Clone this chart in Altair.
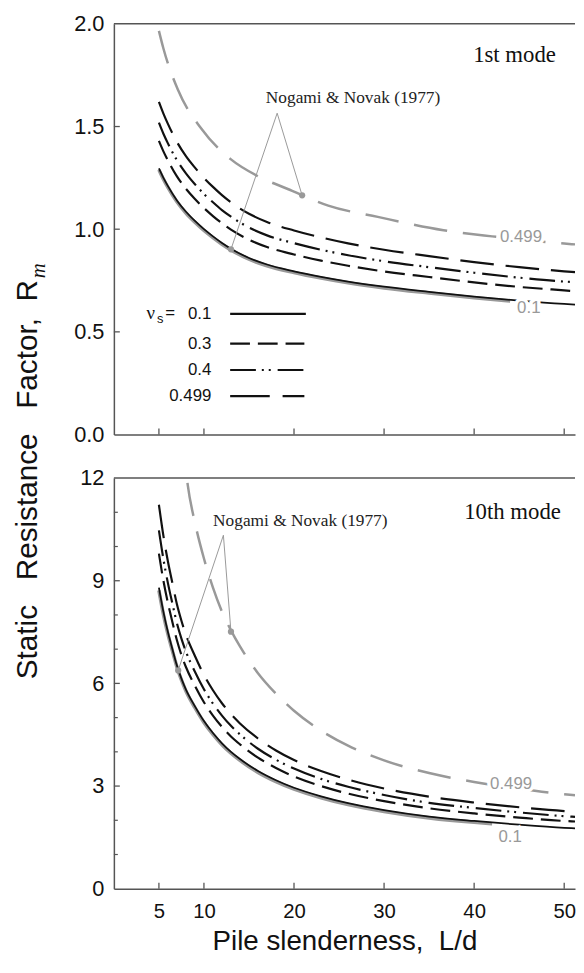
import altair as alt
import pandas as pd

# ---------------- values ----------------
X_TICKS = [5, 10, 20, 30, 40, 50]

# 1st mode
LD1 = [5, 5.5, 6, 7, 8, 9, 10, 11, 12, 13, 15, 17, 20, 23, 26, 30, 35, 40, 45, 50, 51.2]
M1_NU01 = [1.296, 1.25, 1.21, 1.14, 1.085, 1.04, 1.0, 0.965, 0.933, 0.905, 0.86, 0.828, 0.795, 0.768, 0.745, 0.72, 0.695, 0.672, 0.652, 0.636, 0.633]
M1_NU03 = [1.43, 1.379, 1.335, 1.257, 1.197, 1.147, 1.103, 1.064, 1.029, 0.998, 0.949, 0.913, 0.877, 0.847, 0.822, 0.794, 0.767, 0.741, 0.719, 0.702, 0.698]
M1_NU04 = [1.519, 1.465, 1.418, 1.336, 1.272, 1.219, 1.172, 1.131, 1.093, 1.061, 1.008, 0.970, 0.932, 0.900, 0.873, 0.844, 0.815, 0.788, 0.764, 0.745, 0.742]
M1_NU0499 = [1.62, 1.563, 1.513, 1.425, 1.356, 1.30, 1.25, 1.206, 1.166, 1.131, 1.075, 1.035, 0.994, 0.96, 0.931, 0.90, 0.869, 0.84, 0.815, 0.795, 0.791]
NN1_LD01 = [5, 5.5, 6, 7, 8, 9, 10, 11, 12, 13, 15, 17, 20, 23, 26, 30, 35, 40, 44]
NN1_NU01 = [1.29, 1.244, 1.204, 1.134, 1.079, 1.034, 0.994, 0.959, 0.927, 0.899, 0.854, 0.822, 0.789, 0.762, 0.739, 0.714, 0.689, 0.666, 0.65]
NN1_LD0499 = [5, 5.5, 7.1, 9.7, 13, 15.9, 19.8, 20.9, 23.8, 29.3, 36.6, 42, 50, 51.2]
NN1_NU0499 = [1.966, 1.88, 1.68, 1.49, 1.34, 1.26, 1.187, 1.165, 1.115, 1.06, 0.995, 0.965, 0.93, 0.926]
NN1_POINTS_LD = [13.0, 20.9]
NN1_POINTS_R = [0.902, 1.165]
NN1_APEX = (18.13, 1.565)

# 10th mode
LD10 = [5, 5.5, 6, 6.5, 7, 7.5, 8, 9, 10, 11, 12, 13, 14, 16, 18, 20, 23, 26, 30, 35, 40, 45, 50, 51.2]
M10_NU01 = [8.8, 8.09, 7.5, 7.0, 6.52, 6.14, 5.82, 5.33, 4.9, 4.55, 4.25, 4.0, 3.79, 3.44, 3.17, 2.95, 2.7, 2.5, 2.3, 2.11, 1.98, 1.87, 1.78, 1.765]
M10_NU03 = [9.79, 9.0, 8.35, 7.79, 7.26, 6.83, 6.48, 5.93, 5.45, 5.06, 4.73, 4.45, 4.22, 3.83, 3.53, 3.28, 3.0, 2.78, 2.56, 2.35, 2.2, 2.08, 1.98, 1.965]
M10_NU04 = [10.47, 9.63, 8.93, 8.33, 7.76, 7.31, 6.93, 6.34, 5.83, 5.41, 5.06, 4.76, 4.51, 4.09, 3.77, 3.51, 3.21, 2.98, 2.74, 2.51, 2.36, 2.23, 2.12, 2.10]
M10_NU0499 = [11.22, 10.31, 9.56, 8.93, 8.31, 7.83, 7.42, 6.8, 6.25, 5.8, 5.42, 5.1, 4.83, 4.39, 4.04, 3.76, 3.44, 3.19, 2.93, 2.69, 2.52, 2.38, 2.27, 2.25]
NN10_LD01 = [5, 5.5, 6, 6.5, 7, 7.5, 8, 9, 10, 11, 12, 13, 14, 16, 18, 20, 23, 26, 30, 35, 40, 42]
NN10_NU01 = [8.72, 8.02, 7.44, 6.95, 6.48, 6.1, 5.78, 5.29, 4.86, 4.51, 4.21, 3.96, 3.75, 3.4, 3.13, 2.91, 2.66, 2.46, 2.26, 2.07, 1.94, 1.9]
NN10_LD0499 = [7.6, 8.2, 9, 10, 11, 12, 13, 14, 16, 18, 20, 23, 26, 30, 35, 40, 45, 50, 51.2]
NN10_NU0499 = [13.3, 11.8, 10.7, 9.65, 8.8, 8.1, 7.55, 7.08, 6.3, 5.7, 5.2, 4.62, 4.18, 3.75, 3.38, 3.12, 2.92, 2.76, 2.73]
NN10_POINTS_LD = [7.14, 13.0]
NN10_POINTS_R = [6.38, 7.51]
NN10_APEX = (12.16, 10.33)

NU_LABELS = ["0.1", "0.3", "0.4", "0.499"]

# ---------------- styling / layout ----------------
W, H = 466, 415
BLACK = "#111111"
GRAY = "#999999"
AX = "#555555"
xscale = alt.Scale(domain=[0, 51.2], nice=False, zero=False)
yscale_top = alt.Scale(domain=[0, 2], nice=False)
yscale_bot = alt.Scale(domain=[0, 12], nice=False)

DASH_03 = [20, 8]
DASH_04 = [26, 6, 2, 5, 2, 7]
DASH_0499 = [34, 12]
DASH_NN = [34, 16]


def panel(xaxis, yaxis, yscale, curves, nn01, nn0499, pts, apex, ytick_major, ytick_minor,
          lab0499, lab01, nogami_xy, mode_text, mode_xy, extra=None):
    X = alt.X("ld:Q", scale=xscale, axis=xaxis)
    Y = alt.Y("R:Q", scale=yscale, axis=yaxis)

    def line(ld, vals, color, width, dash=None):
        kw = dict(color=color, strokeWidth=width, clip=True, interpolate="monotone")
        if dash:
            kw["strokeDash"] = dash
        return alt.Chart(pd.DataFrame({"ld": ld, "R": vals})).mark_line(**kw).encode(x=X, y=Y)

    layers = []
    # frame top line
    layers.append(alt.Chart(pd.DataFrame({"a": [0]})).mark_rule(color=AX, strokeWidth=1.5).encode(
        x=alt.value(0), x2=alt.value(W), y=alt.value(0)))
    # inward ticks
    layers.append(alt.Chart(pd.DataFrame({"ld": X_TICKS})).mark_rule(color=AX, strokeWidth=1.3).encode(
        x=X, y=alt.value(H), y2=alt.value(H - 6)))
    layers.append(alt.Chart(pd.DataFrame({"R": ytick_major})).mark_rule(color=AX, strokeWidth=1.3).encode(
        y=Y, x=alt.value(0), x2=alt.value(6)))
    if ytick_minor:
        layers.append(alt.Chart(pd.DataFrame({"R": ytick_minor})).mark_rule(color=AX, strokeWidth=1.2).encode(
            y=Y, x=alt.value(0), x2=alt.value(4)))
    # curves
    layers.append(line(nn01[0], nn01[1], GRAY, 3.6))
    layers.append(line(curves[0][0], curves[0][1], BLACK, 1.8))
    layers.append(line(curves[1][0], curves[1][1], BLACK, 2.2, DASH_03))
    layers.append(line(curves[2][0], curves[2][1], BLACK, 2.2, DASH_04))
    layers.append(line(curves[3][0], curves[3][1], BLACK, 2.2, DASH_0499))
    layers.append(line(nn0499[0], nn0499[1], GRAY, 2.5, DASH_NN))
    # leader lines and points
    lead = pd.DataFrame({"ld": [pts[0][0], apex[0], pts[0][1]], "R": [pts[1][0], apex[1], pts[1][1]]})
    layers.append(alt.Chart(lead).mark_line(color=GRAY, strokeWidth=1).encode(x=X, y=Y))
    layers.append(alt.Chart(pd.DataFrame({"ld": pts[0], "R": pts[1]})).mark_circle(
        color=GRAY, opacity=1, size=40).encode(x=X, y=Y))
    # curve labels with white halo
    lab = pd.DataFrame({"ld": [lab0499[0], lab01[0]], "R": [lab0499[1], lab01[1]], "t": ["0.499", "0.1"]})
    layers.append(alt.Chart(lab).mark_text(font="Liberation Sans", fontSize=17, color="white",
                                           stroke="white", strokeWidth=7, baseline="middle").encode(
        x=X, y=Y, text="t:N"))
    layers.append(alt.Chart(lab).mark_text(font="Liberation Sans", fontSize=17, color=GRAY,
                                           baseline="middle").encode(x=X, y=Y, text="t:N"))
    # annotation texts
    layers.append(alt.Chart(pd.DataFrame({"t": ["Nogami & Novak (1977)"]})).mark_text(
        font="Liberation Serif", fontSize=17.5, color="#222222", align="center", baseline="alphabetic").encode(
        x=alt.value(nogami_xy[0]), y=alt.value(nogami_xy[1]), text="t:N"))
    layers.append(alt.Chart(pd.DataFrame({"t": [mode_text]})).mark_text(
        font="Liberation Serif", fontSize=23, color="#111111", align="right", baseline="alphabetic").encode(
        x=alt.value(mode_xy[0]), y=alt.value(mode_xy[1]), text="t:N"))
    if extra:
        layers.extend(extra)
    return alt.layer(*layers).properties(width=W, height=H)


# legend + y title (top panel only)
extra_top = []
LEG_Y = [293, 323.2, 349.8, 376.2]
leg_dashes = [None, DASH_03, DASH_04, [40, 13]]
for i, lbl in enumerate(NU_LABELS):
    extra_top.append(alt.Chart(pd.DataFrame({"t": [lbl]})).mark_text(
        font="Liberation Sans", fontSize=17, color=BLACK, align="right", baseline="middle").encode(
        x=alt.value(98.5), y=alt.value(LEG_Y[i]), text="t:N"))
    kw = dict(color=BLACK, strokeWidth=2.2)
    if leg_dashes[i]:
        kw["strokeDash"] = leg_dashes[i]
    extra_top.append(alt.Chart(pd.DataFrame({"a": [0]})).mark_rule(**kw).encode(
        x=alt.value(117.5), x2=alt.value(194 if i == 0 else 192.5), y=alt.value(LEG_Y[i])))
extra_top.append(alt.Chart(pd.DataFrame({"t": ["\u03bd"]})).mark_text(
    font="Liberation Serif", fontSize=19, color=BLACK, align="left", baseline="middle").encode(
    x=alt.value(33), y=alt.value(292), text="t:N"))
extra_top.append(alt.Chart(pd.DataFrame({"t": ["s"]})).mark_text(
    font="Liberation Sans", fontSize=13, color=BLACK, align="left", baseline="middle").encode(
    x=alt.value(43.5), y=alt.value(298), text="t:N"))
extra_top.append(alt.Chart(pd.DataFrame({"t": ["="]})).mark_text(
    font="Liberation Sans", fontSize=17, color=BLACK, align="left", baseline="middle").encode(
    x=alt.value(52), y=alt.value(292), text="t:N"))
extra_top.append(alt.Chart(pd.DataFrame({"t": ["Static\u00a0\u00a0\u00a0Resistance\u00a0\u00a0\u00a0Factor,\u00a0\u00a0R"]})).mark_text(
    font="Liberation Sans", fontSize=30, color=BLACK, align="right", baseline="alphabetic", angle=270).encode(
    x=alt.value(-78), y=alt.value(259), text="t:N"))
extra_top.append(alt.Chart(pd.DataFrame({"t": ["m"]})).mark_text(
    font="Liberation Serif", fontSize=21, fontStyle="italic", color=BLACK, align="left",
    baseline="alphabetic", angle=270).encode(
    x=alt.value(-70), y=alt.value(257), text="t:N"))

top = panel(
    xaxis=alt.Axis(values=X_TICKS, labels=False, ticks=False, title=None),
    yaxis=alt.Axis(values=[0, 0.5, 1.0, 1.5, 2.0], format=".1f", ticks=False, labelPadding=10, title=None),
    yscale=yscale_top,
    curves=[(LD1, M1_NU01), (LD1, M1_NU03), (LD1, M1_NU04), (LD1, M1_NU0499)],
    nn01=(NN1_LD01, NN1_NU01), nn0499=(NN1_LD0499, NN1_NU0499),
    pts=(NN1_POINTS_LD, NN1_POINTS_R), apex=NN1_APEX,
    ytick_major=[0.5, 1.0, 1.5], ytick_minor=None,
    lab0499=(45.2, 0.964), lab01=(46.07, 0.617),
    nogami_xy=(241.7, 80), mode_text="1st mode", mode_xy=(446.7, 39), extra=extra_top)

bottom = panel(
    xaxis=alt.Axis(values=X_TICKS, ticks=False, labelPadding=13, labelFontSize=20.5,
                   title="Pile slenderness,\u00a0\u00a0L/d",
                   titleFontSize=28, titleFontWeight="normal", titlePadding=6, titleColor=BLACK,
                   titleFont="Liberation Sans"),
    yaxis=alt.Axis(values=[0, 3, 6, 9, 12], format="d", ticks=False, labelPadding=10, title=None),
    yscale=yscale_bot,
    curves=[(LD10, M10_NU01), (LD10, M10_NU03), (LD10, M10_NU04), (LD10, M10_NU0499)],
    nn01=(NN10_LD01, NN10_NU01), nn0499=(NN10_LD0499, NN10_NU0499),
    pts=(NN10_POINTS_LD, NN10_POINTS_R), apex=NN10_APEX,
    ytick_major=[3, 6, 9], ytick_minor=[1, 2, 4, 5, 7, 8, 10, 11],
    lab0499=(44.1, 3.05), lab01=(44.0, 1.5),
    nogami_xy=(188.4, 48), mode_text="10th mode", mode_xy=(451.7, 41))

chart = alt.vconcat(top, bottom, spacing=44, bounds="flush").properties(
    padding={"left": 5, "top": 0, "right": 0, "bottom": 0}
).configure_view(stroke=None).configure_axis(
    grid=False, domainColor=AX, domainWidth=1.5, labelFont="Liberation Sans", labelFontSize=22,
    labelColor=BLACK, titleFont="Liberation Sans"
)

chart.save("out.html", embed_options={"renderer": "svg", "actions": False})
